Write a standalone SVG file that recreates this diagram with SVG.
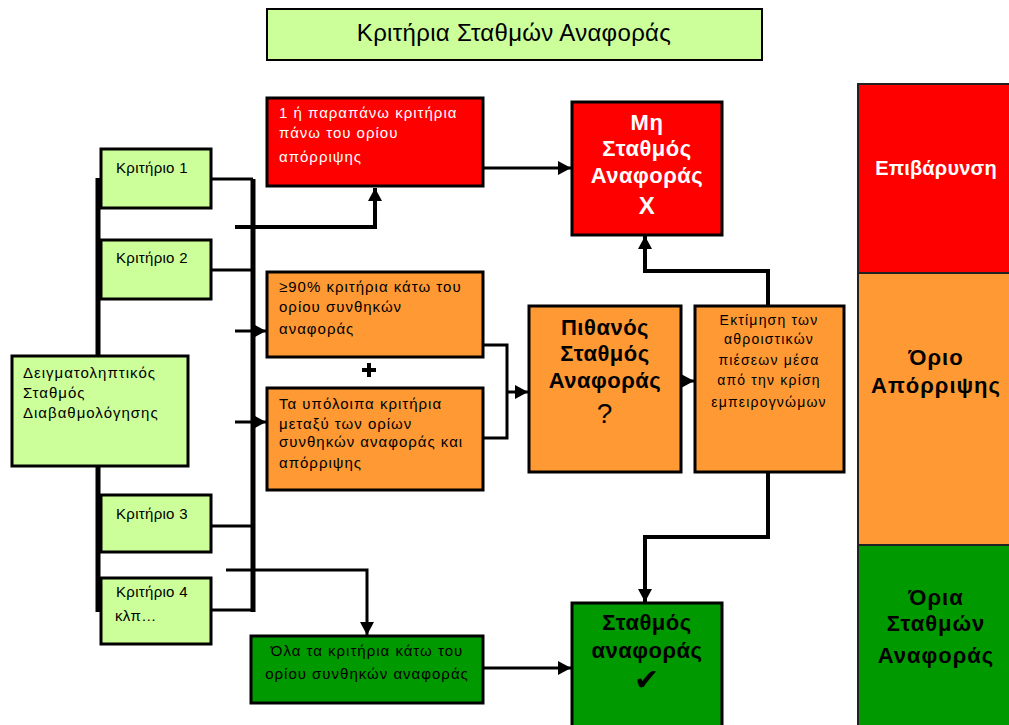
<svg xmlns="http://www.w3.org/2000/svg" width="1009" height="725" viewBox="0 0 1009 725">
<style>
.box{stroke:#000;stroke-width:3}
.lg{fill:#ccff99}.rd{fill:#ff0000}.or{fill:#ff9933}.gr{fill:#009900}
text{font-family:"Liberation Sans","DejaVu Sans",sans-serif;font-size:15px;letter-spacing:1px;fill:#000}
.k{letter-spacing:0.3px}
.s{font-size:14px;letter-spacing:1.2px}
.w{fill:#fff}
.b{font-weight:bold;font-size:22px;letter-spacing:0.5px}
.lgd{font-weight:bold;font-size:22px;letter-spacing:1px}
.c{text-anchor:middle}
.ln{fill:none;stroke:#000;stroke-width:3}
.tk{fill:none;stroke:#000;stroke-width:5}
</style>
<defs>
<marker id="ah" markerUnits="userSpaceOnUse" markerWidth="16" markerHeight="16" refX="13" refY="8" orient="auto">
<path d="M0,1 L13,8 L0,15 Z" fill="#000"/>
</marker>
</defs>
<rect width="1009" height="725" fill="#fff"/>

<g id="title">
<rect x="267" y="9" width="495" height="51" class="lg" stroke="#000" stroke-width="2"/>
<text x="514" y="41" class="c" style="font-size:24px;letter-spacing:0.3px">Κριτήρια Σταθμών Αναφοράς</text>
</g>

<g id="legend">
<rect x="858" y="84" width="155" height="189" class="rd" stroke="#222" stroke-width="2"/>
<rect x="858" y="273" width="155" height="272" class="or" stroke="#222" stroke-width="2"/>
<rect x="858" y="545" width="155" height="185" class="gr" stroke="#222" stroke-width="2"/>
<text x="936" y="175" class="c w lgd" style="font-size:20px;letter-spacing:0.2px">Επιβάρυνση</text>
<text x="936" y="365" class="c lgd">Όριο</text>
<text x="936" y="393" class="c lgd">Απόρριψης</text>
<text x="936" y="605" class="c lgd">Όρια</text>
<text x="936" y="631" class="c lgd">Σταθμών</text>
<text x="936" y="663" class="c lgd">Αναφοράς</text>
</g>

<g id="connectors">
<path class="tk" d="M98,178 V612"/>
<path class="tk" d="M253,179 V612"/>
<path class="ln" d="M211,179 H253"/>
<path class="ln" d="M211,270 H253"/>
<path class="ln" d="M211,526 H253"/>
<path class="ln" d="M211,610 H253"/>
<path class="ln" d="M235,227 H375 V188" marker-end="url(#ah)" style="stroke-width:4"/>
<path class="ln" d="M235,331 H266" marker-end="url(#ah)"/>
<path class="ln" d="M235,422 H266" marker-end="url(#ah)"/>
<path class="ln" d="M226,570 H367 V635" marker-end="url(#ah)"/>
<path class="ln" d="M483,168 H571" marker-end="url(#ah)"/>
<path class="ln" d="M483,345 H507 V438 H483"/>
<path class="ln" d="M507,392 H528" marker-end="url(#ah)"/>
<path class="ln" d="M681,381 H694" marker-end="url(#ah)"/>
<path class="ln" d="M768,306 V271 H645 V236" marker-end="url(#ah)" style="stroke-width:4"/>
<path class="ln" d="M768,472 V537 H645 V602" marker-end="url(#ah)" style="stroke-width:4"/>
<path class="ln" d="M483,668 H571" marker-end="url(#ah)"/>
<path d="M369,363 V377 M362,370 H376" stroke="#000" stroke-width="4"/>
</g>

<g id="k1"><rect x="101" y="149" width="110" height="59" class="box lg"/><text x="116" y="173" class="k">Κριτήριο 1</text></g>
<g id="k2"><rect x="101" y="240" width="110" height="59" class="box lg"/><text x="116" y="263" class="k">Κριτήριο 2</text></g>
<g id="deigm"><rect x="12" y="356" width="176" height="110" class="box lg"/>
<text x="23" y="378">Δειγματοληπτικός</text><text x="23" y="398">Σταθμός</text><text x="23" y="418">Διαβαθμολόγησης</text></g>
<g id="k3"><rect x="101" y="495" width="110" height="57" class="box lg"/><text x="116" y="519" class="k">Κριτήριο 3</text></g>
<g id="k4"><rect x="101" y="578" width="110" height="66" class="box lg"/><text x="116" y="597" class="k">Κριτήριο 4</text><text x="115" y="621" class="k">κλπ…</text></g>

<g id="red1"><rect x="267" y="98" width="216" height="88" class="box rd"/>
<text x="279" y="118" class="w">1 ή παραπάνω κριτήρια</text><text x="279" y="138" class="w">πάνω του ορίου</text><text x="279" y="162" class="w">απόρριψης</text></g>
<g id="or1"><rect x="267" y="272" width="216" height="85" class="box or"/>
<text x="279" y="292">≥90% κριτήρια κάτω του</text><text x="279" y="312">ορίου συνθηκών</text><text x="279" y="334">αναφοράς</text></g>
<g id="or2"><rect x="267" y="388" width="216" height="102" class="box or"/>
<text x="279" y="409">Τα υπόλοιπα κριτήρια</text><text x="279" y="429">μεταξύ των ορίων</text><text x="279" y="447">συνθηκών αναφοράς και</text><text x="279" y="468">απόρριψης</text></g>
<g id="gr1"><rect x="251" y="636" width="232" height="67" class="box gr"/>
<text x="367" y="656" class="c">Όλα τα κριτήρια κάτω του</text><text x="367" y="679" class="c">ορίου συνθηκών αναφοράς</text></g>

<g id="mi"><rect x="572" y="102" width="150" height="133" class="box rd"/>
<text x="647" y="130" class="c w b">Μη</text><text x="647" y="156" class="c w b">Σταθμός</text><text x="647" y="183" class="c w b">Αναφοράς</text><text x="647" y="214" class="c w b" style="font-size:24px">X</text></g>
<g id="pith"><rect x="529" y="306" width="152" height="166" class="box or"/>
<text x="605" y="335" class="c b">Πιθανός</text><text x="605" y="361" class="c b">Σταθμός</text><text x="605" y="388" class="c b">Αναφοράς</text><text x="605" y="423" class="c" style="font-size:28px">?</text></g>
<g id="ekt"><rect x="695" y="306" width="149" height="166" class="box or"/>
<text x="769" y="325" class="c s">Εκτίμηση των</text><text x="769" y="344" class="c s">αθροιστικών</text><text x="769" y="365" class="c s">πιέσεων μέσα</text><text x="769" y="385" class="c s">από την κρίση</text><text x="769" y="407" class="c s">εμπειρογνώμων</text></g>
<g id="stath"><rect x="572" y="603" width="150" height="130" class="box gr"/>
<text x="647" y="630" class="c b">Σταθμός</text><text x="647" y="658" class="c b">αναφοράς</text><text x="647" y="690" class="c" style="font-size:30px;font-family:'DejaVu Sans',sans-serif">✔</text></g>
</svg>
